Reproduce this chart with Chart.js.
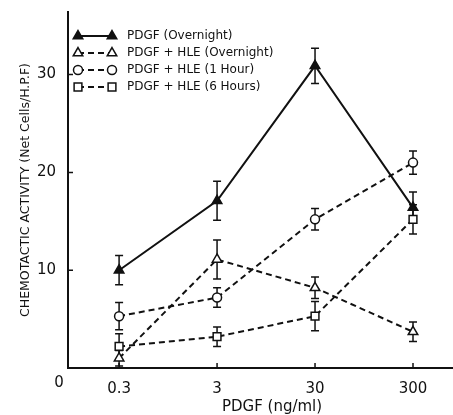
<!DOCTYPE html>
<html>
<head>
<meta charset="utf-8">
<script src="https://cdn.jsdelivr.net/npm/chart.js@4/dist/chart.umd.min.js"></script>
<style>
  html, body { margin: 0; padding: 0; background: #fff; }
  #wrap { width: 453px; height: 415px; }
</style>
</head>
<body>
<div id="wrap"><canvas id="chemo" width="453" height="415"></canvas></div>
<script>
// PDGF dose (ng/ml) on a log axis
const doses = [0.3, 3, 30, 300];
const yTicks = [10, 20, 30];

const seriesNames = ['PDGF (Overnight)', 'PDGF + HLE (Overnight)', 'PDGF + HLE (1 Hour)', 'PDGF + HLE (6 Hours)'];

const pdgfOvernight    = [10.0, 17.1, 30.9, 16.4];
const pdgfOvernightErr = [1.5, 2.0, 1.8, 1.6];
const hleOvernight     = [1.0, 11.1, 8.2, 3.7];
const hleOvernightErr  = [0.8, 2.0, 1.1, 1.0];
const hle1Hour         = [5.3, 7.2, 15.2, 21.0];
const hle1HourErr      = [1.4, 1.0, 1.1, 1.2];
const hle6Hours        = [2.2, 3.2, 5.3, 15.2];
const hle6HoursErr     = [1.3, 1.0, 1.5, 1.5];

const INK = '#111';
const FONT = 'DejaVu Sans';

const toPoints = vals => doses.map((d, i) => ({ x: d, y: vals[i] }));

function makeSet(name, vals, errs, style, radius, filled, dashed) {
    return {
        label: name,
        data: toPoints(vals),
        errors: errs,
        borderColor: INK,
        borderWidth: 2,
        borderDash: dashed ? [6, 4] : [],
        pointStyle: style,
        pointRadius: radius,
        pointBorderWidth: 1.5,
        pointBorderColor: INK,
        pointBackgroundColor: filled ? INK : '#fff',
        tension: 0
    };
}

// error bars, drawn under the markers
const errorBars = {
    id: 'errorBars',
    beforeDatasetsDraw(chart) {
        const { ctx, scales: { x, y } } = chart;
        ctx.save();
        ctx.strokeStyle = INK;
        ctx.lineWidth = 1.5;
        chart.data.datasets.forEach(ds => {
            ds.data.forEach((p, j) => {
                const e = ds.errors[j];
                const px = x.getPixelForValue(p.x);
                const top = y.getPixelForValue(p.y + e);
                const bot = y.getPixelForValue(Math.max(0, p.y - e));
                ctx.beginPath();
                ctx.moveTo(px, top); ctx.lineTo(px, bot);
                ctx.moveTo(px - 4, top); ctx.lineTo(px + 4, top);
                ctx.moveTo(px - 4, bot); ctx.lineTo(px + 4, bot);
                ctx.stroke();
            });
        });
        ctx.restore();
    }
};

// inward tick marks, origin label, x title and the legend
const decorations = {
    id: 'decorations',
    afterDraw(chart) {
        const { ctx, chartArea: area, scales: { x, y } } = chart;
        ctx.save();
        ctx.strokeStyle = INK;
        ctx.lineWidth = 1.5;
        ctx.beginPath();
        yTicks.forEach(v => {
            const py = y.getPixelForValue(v);
            ctx.moveTo(area.left, py); ctx.lineTo(area.left + 5, py);
        });
        doses.forEach(d => {
            const px = x.getPixelForValue(d);
            ctx.moveTo(px, area.bottom); ctx.lineTo(px, area.bottom - 5);
        });
        ctx.stroke();

        ctx.fillStyle = INK;
        ctx.textAlign = 'center';
        ctx.textBaseline = 'middle';
        ctx.font = '15px "' + FONT + '"';
        ctx.fillText('0', area.left - 9, area.bottom + 15);
        ctx.fillText('PDGF (ng/ml)', 272, 407);

        // legend: a short line with a marker at each end
        ctx.font = '12px "' + FONT + '"';
        ctx.textAlign = 'left';
        chart.data.datasets.forEach((ds, i) => {
            const ly = 36 + i * 17;
            ctx.save();
            ctx.lineWidth = 2;
            ctx.setLineDash(ds.borderDash);
            ctx.beginPath();
            ctx.moveTo(78, ly); ctx.lineTo(112, ly);
            ctx.stroke();
            ctx.restore();
            [78, 112].forEach(lx => {
                ctx.fillStyle = ds.pointBackgroundColor;
                ctx.lineWidth = 1.5;
                Chart.helpers.drawPoint(ctx, {
                    pointStyle: ds.pointStyle,
                    radius: ds.pointRadius,
                    rotation: 0,
                    borderWidth: 1.5
                }, lx, ly);
            });
            ctx.fillStyle = INK;
            ctx.fillText(ds.label, 127, ly);
        });
        ctx.restore();
    }
};

new Chart(document.getElementById('chemo'), {
    type: 'line',
    data: {
        datasets: [
            makeSet(seriesNames[0], pdgfOvernight, pdgfOvernightErr, 'triangle', 5.5, true, false),
            makeSet(seriesNames[1], hleOvernight, hleOvernightErr, 'triangle', 5.5, false, true),
            makeSet(seriesNames[2], hle1Hour, hle1HourErr, 'circle', 4.5, false, true),
            makeSet(seriesNames[3], hle6Hours, hle6HoursErr, 'rect', 5.5, false, true)
        ]
    },
    options: {
        responsive: false,
        devicePixelRatio: 1,
        animation: false,
        layout: { autoPadding: false, padding: { top: 12, right: 0, left: 0, bottom: 0 } },
        plugins: {
            legend: { display: false },
            tooltip: { enabled: false }
        },
        scales: {
            x: {
                type: 'logarithmic',
                min: 0.0903,
                max: 768,
                afterBuildTicks: scale => { scale.ticks = doses.map(v => ({ value: v })); },
                afterFit: scale => {
                    scale.height = 47;
                    scale.paddingLeft = 0;
                    scale.paddingRight = 0;
                },
                grid: { display: false },
                border: { display: true, color: INK, width: 2 },
                ticks: {
                    color: INK,
                    padding: 4,
                    autoSkip: false,
                    maxRotation: 0,
                    font: { family: FONT, size: 15 },
                    callback: v => String(v)
                }
            },
            y: {
                min: 0,
                max: 36.4,
                afterBuildTicks: scale => { scale.ticks = yTicks.map(v => ({ value: v })); },
                afterFit: scale => {
                    scale.width = 68;
                    scale.paddingTop = 0;
                    scale.paddingBottom = 0;
                },
                grid: { display: false },
                border: { display: true, color: INK, width: 2 },
                ticks: {
                    color: INK,
                    padding: 4,
                    font: { family: FONT, size: 15 }
                },
                title: {
                    display: true,
                    text: 'CHEMOTACTIC ACTIVITY (Net Cells/H.P.F)',
                    color: INK,
                    font: { family: FONT, size: 12.5 },
                    padding: { top: 18, bottom: 0 }
                }
            }
        }
    },
    plugins: [errorBars, decorations]
});
</script>
</body>
</html>
